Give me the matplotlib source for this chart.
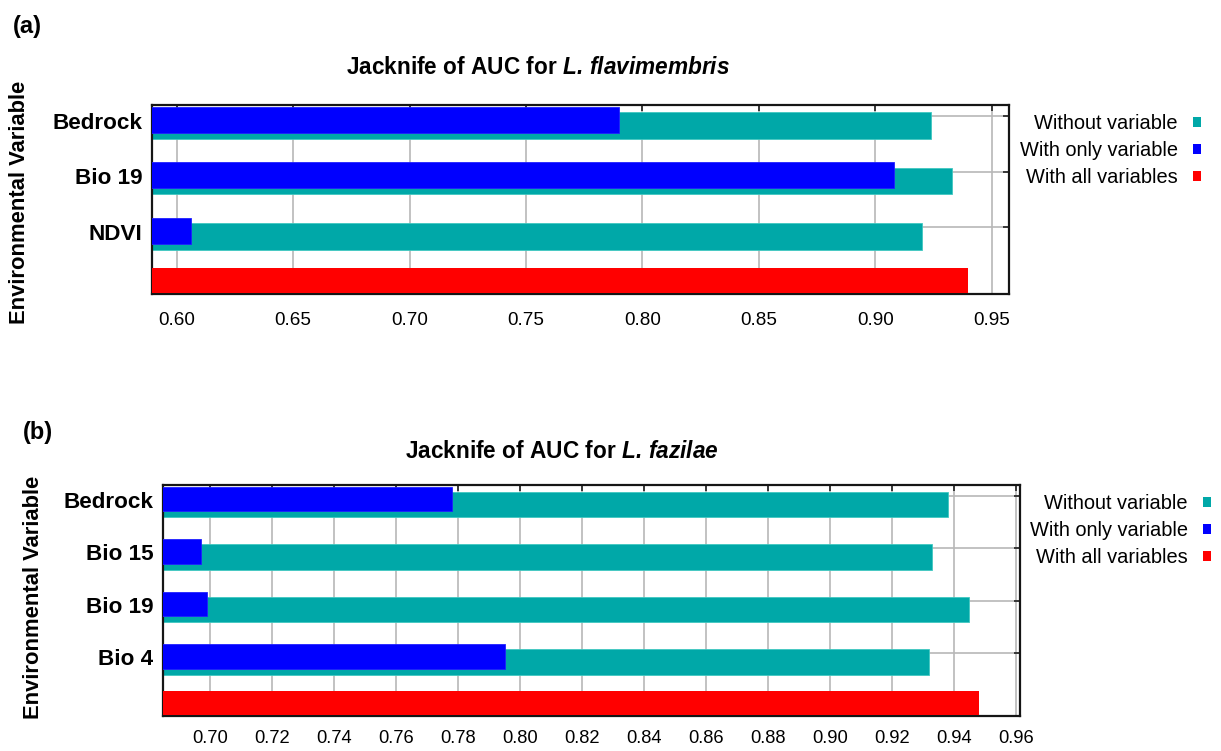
import matplotlib
matplotlib.use("Agg")
import matplotlib.pyplot as plt
from matplotlib.patches import Patch
import numpy as np

plt.rcParams['font.family'] = ['Liberation Sans', 'DejaVu Sans']
plt.rcParams['mathtext.fontset'] = 'custom'
plt.rcParams['mathtext.rm'] = 'Liberation Sans'
plt.rcParams['mathtext.bf'] = 'Liberation Sans:bold'
plt.rcParams['mathtext.it'] = 'Liberation Sans:italic'
plt.rcParams['mathtext.bfit'] = 'Liberation Sans:bold:italic'

# Jackknife AUC results, L. flavimembris
vars_a = ['Bedrock', 'Bio 19', 'NDVI']
without_a = [0.924, 0.933, 0.920]
only_a = [0.790, 0.908, 0.606]
all_a = 0.940

# Jackknife AUC results, L. fazilae
vars_b = ['Bedrock', 'Bio 15', 'Bio 19', 'Bio 4']
without_b = [0.938, 0.933, 0.945, 0.932]
only_b = [0.778, 0.697, 0.699, 0.795]
all_b = 0.948

xticks_a = [0.60, 0.65, 0.70, 0.75, 0.80, 0.85, 0.90, 0.95]
xticks_b = [0.70, 0.72, 0.74, 0.76, 0.78, 0.80, 0.82, 0.84, 0.86, 0.88,
            0.90, 0.92, 0.94, 0.96]

TEAL = '#00A8A8'
BLUE = '#0000FF'
RED = '#FF0000'
GRID = '#B8B8B8'

W, H = 1221, 751
fig = plt.figure(figsize=(W / 100, H / 100), dpi=100)


def px_axes(left, top, right, bottom):
    return fig.add_axes([left / W, 1 - bottom / H, (right - left) / W, (bottom - top) / H])


def jackknife(ax, names, without, only, allv, xlim, xticks, xpad, xsize):
    n = len(names)
    pos = np.arange(n)
    ax.barh(pos, without, height=0.48, color=TEAL, edgecolor='#40C8C0', linewidth=0.6, zorder=2)
    ax.barh(pos - 0.105, only, height=0.47, color=BLUE, edgecolor='#2020FF', linewidth=0.6, zorder=3)
    ax.barh([n - 0.21], [allv], height=0.46, color=RED, zorder=3)

    ax.set_xlim(*xlim)
    ax.set_ylim(n + 0.03, -0.37)
    ax.set_xticks(xticks, labels=[f'{t:.2f}' for t in xticks], fontsize=xsize)
    # grid rows sit a little above the bar pairs, labels slightly lower
    ax.set_yticks(pos - 0.17, labels=[])
    ax.set_yticks(pos - 0.09, labels=names, minor=True, fontsize=16.2, fontweight='bold')
    ax.tick_params(axis='y', which='minor', length=0, pad=7)
    ax.tick_params(axis='both', which='major', direction='in', length=4, width=1.2,
                   top=True, right=True, left=False, bottom=False, color='#202020')
    ax.tick_params(axis='x', which='major', pad=xpad)
    ax.grid(True, which='major', color=GRID, linewidth=1.2)
    ax.set_axisbelow(True)
    for s in ax.spines.values():
        s.set_linewidth(1.6)
        s.set_color('#151515')


def legend(ax, right, top):
    handles = [Patch(facecolor=TEAL, label='Without variable'),
               Patch(facecolor=BLUE, label='With only variable'),
               Patch(facecolor=RED, label='With all variables')]
    ax.legend(handles=handles, loc='upper right', bbox_to_anchor=(right / W, 1 - top / H),
              bbox_transform=fig.transFigure, frameon=False, markerfirst=False,
              fontsize=14.4, handlelength=0.4, handleheight=0.4, handletextpad=0.75,
              labelspacing=0.4, borderpad=0, borderaxespad=0)


ax_a = px_axes(152, 105, 1009, 294)
jackknife(ax_a, vars_a, without_a, only_a, all_a, (0.5894, 0.9574), xticks_a, 13, 13.6)
legend(ax_a, 1201, 114)

ax_b = px_axes(163, 485, 1020, 716)
jackknife(ax_b, vars_b, without_b, only_b, all_b, (0.6847, 0.9613), xticks_b, 10, 13.2)
legend(ax_b, 1211, 494)

fig.text(538 / W, 1 - 68 / H, r'$\mathbf{Jacknife\ of\ AUC\ for}\ \mathbfit{L.\,flavimembris}$',
         fontsize=16.3, ha='center', va='center')
fig.text(562 / W, 1 - 452 / H, r'$\mathbf{Jacknife\ of\ AUC\ for}\ \mathbfit{L.\,fazilae}$',
         fontsize=16.3, ha='center', va='center')

fig.text(27 / W, 1 - 27 / H, '(a)', fontsize=17, fontweight='bold', ha='center', va='center')
fig.text(38 / W, 1 - 432 / H, '(b)', fontsize=17, fontweight='bold', ha='center', va='center')

fig.text(20 / W, 1 - 202 / H, 'Environmental Variable', rotation=90, fontsize=15.8,
         fontweight='bold', ha='center', va='center')
fig.text(34 / W, 1 - 597 / H, 'Environmental Variable', rotation=90, fontsize=15.8,
         fontweight='bold', ha='center', va='center')

fig.savefig('out.png', dpi=100)
